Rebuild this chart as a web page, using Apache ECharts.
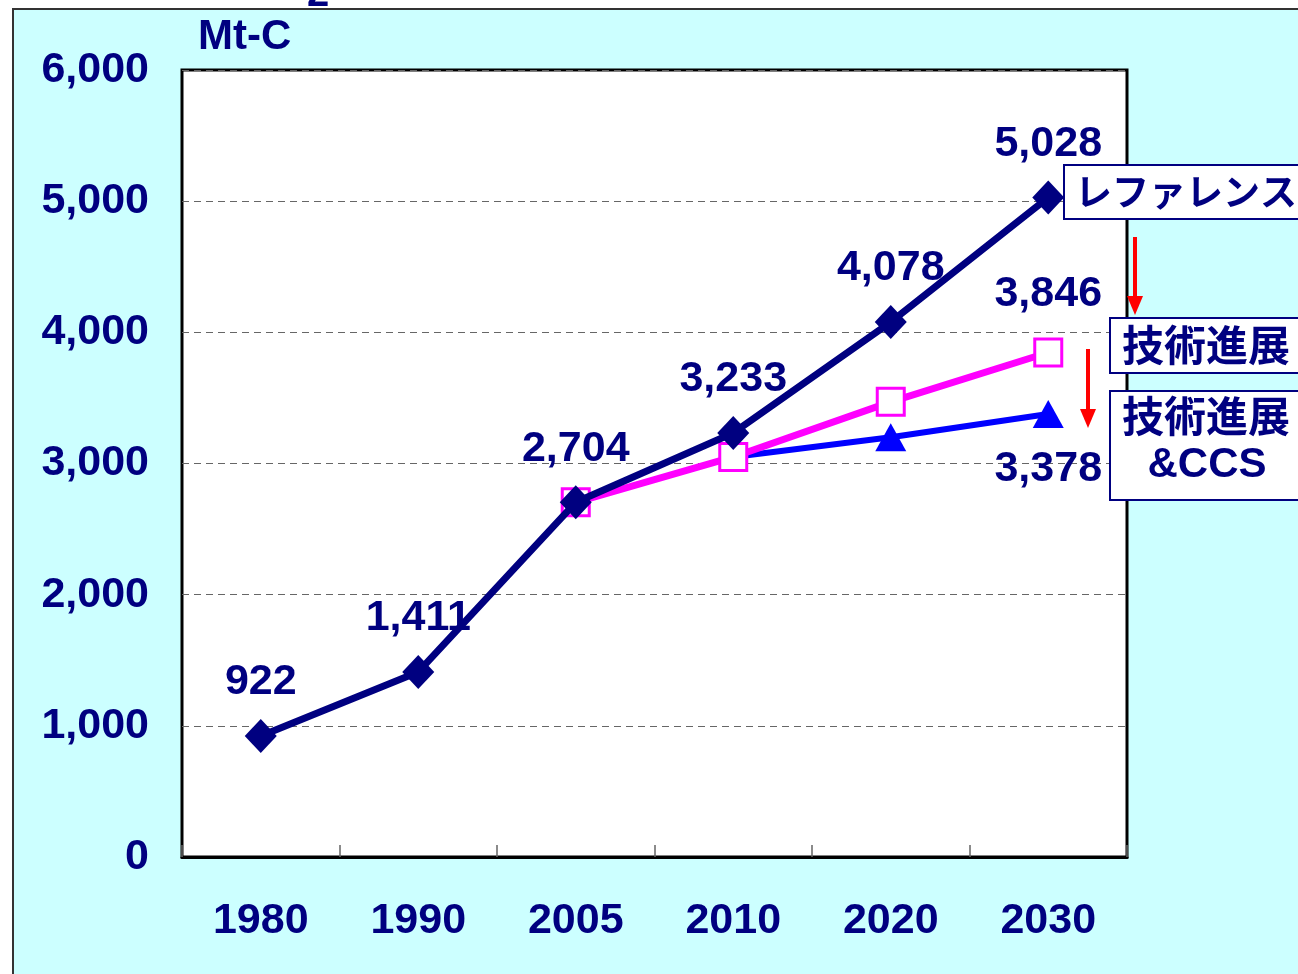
<!DOCTYPE html>
<html>
<head>
<meta charset="utf-8">
<script src="https://cdn.jsdelivr.net/npm/echarts@6/dist/echarts.min.js"></script>
<style>
html,body{margin:0;padding:0;background:#fff;}
#panel{position:absolute;left:12px;top:8px;width:1300px;height:980px;background:#CCFFFF;border-left:2px solid #333;border-top:2px solid #333;box-sizing:border-box;}
#chart{position:absolute;left:0;top:0;width:1298px;height:974px;}
</style>
</head>
<body>
<div id="panel"></div>
<div id="chart"></div>
<script>
const categories = ['1980', '1990', '2005', '2010', '2020', '2030'];
const referenceValues = [922, 1411, 2704, 3233, 4078, 5028];
const techValues = [null, null, 2704, 3050, 3470, 3846];
const ccsValues = [null, null, null, 3050, 3200, 3378];
const yTicks = [0, 1000, 2000, 3000, 4000, 5000, 6000];
const unitLabel = 'Mt-C';
const legendRef = 'レファレンス';
const legendTech = '技術進展';
const legendCcs = ['技術進展', '&CCS'];

const NAVY = '#000080';
const numFont = '"Liberation Sans", Arial, sans-serif';
const jpFont = '"Noto Sans CJK JP", sans-serif';

const chart = echarts.init(document.getElementById('chart'));

const lastIdx = categories.length - 1;
const techData = techValues.map((v, i) => i === lastIdx
  ? { value: v, label: { show: true, position: 'top', distance: 22 } }
  : v);
const ccsData = ccsValues.map((v, i) => {
  if (v === null) return v;
  if (i === lastIdx) return { value: v, label: { show: true, position: 'bottom', distance: 20 } };
  if (i === 3) return { value: v, symbol: 'none' };
  return v;
});

const labelStyle = {
  color: NAVY, fontSize: 43, fontWeight: 'bold', fontFamily: numFont,
  formatter: p => Number(p.value).toLocaleString('en-US')
};

chart.setOption({
  backgroundColor: 'transparent',
  animation: false,
  grid: {
    left: 182, right: 171, top: 70, bottom: 117,
    show: true, backgroundColor: '#fff', borderColor: '#000', borderWidth: 3
  },
  xAxis: {
    type: 'category',
    data: categories,
    boundaryGap: true,
    axisLine: { show: true, lineStyle: { color: '#000', width: 3 } },
    axisTick: { show: true, inside: true, length: 12, lineStyle: { color: '#666', width: 1.5 } },
    axisLabel: { color: NAVY, fontSize: 43, fontWeight: 'bold', fontFamily: numFont, margin: 43 }
  },
  yAxis: {
    type: 'value',
    min: yTicks[0], max: yTicks[yTicks.length - 1], interval: 1000,
    name: unitLabel,
    nameLocation: 'end',
    nameGap: 12,
    nameTextStyle: { color: NAVY, fontSize: 42, fontWeight: 'bold', fontFamily: numFont, align: 'left', padding: [0, 0, 0, 16] },
    axisLine: { show: false },
    axisTick: { show: false },
    axisLabel: {
      color: NAVY, fontSize: 43, fontWeight: 'bold', fontFamily: numFont, margin: 33,
      formatter: v => v.toLocaleString('en-US')
    },
    splitLine: { show: true, lineStyle: { color: '#666', width: 1, type: [7, 5] } }
  },
  series: [
    {
      name: 'ccs', type: 'line', data: ccsData,
      symbol: 'triangle', symbolSize: [31, 28],
      lineStyle: { color: '#0000FF', width: 6 },
      itemStyle: { color: '#0000FF' },
      label: Object.assign({ show: false }, labelStyle),
      z: 2
    },
    {
      name: 'tech', type: 'line', data: techData,
      symbol: 'rect', symbolSize: 27,
      lineStyle: { color: '#FF00FF', width: 7 },
      itemStyle: { color: '#fff', borderColor: '#FF00FF', borderWidth: 3 },
      label: Object.assign({ show: false }, labelStyle),
      z: 3
    },
    {
      name: 'reference', type: 'line', data: referenceValues,
      symbol: 'diamond', symbolSize: [32, 34],
      lineStyle: { color: NAVY, width: 7 },
      itemStyle: { color: NAVY },
      label: Object.assign({ show: true, position: 'top', distance: 15 }, labelStyle),
      z: 4
    }
  ],
  graphic: [
    { type: 'text', x: 318, y: 15, z: 10,
      style: { text: '2', fill: NAVY, font: 'bold 40px ' + numFont, align: 'center', verticalAlign: 'bottom' } },
    { type: 'rect', shape: { x: 1064, y: 165, width: 260, height: 54 }, z: 10,
      style: { fill: '#fff', stroke: NAVY, lineWidth: 2 } },
    { type: 'text', x: 1075, y: 192, z: 11,
      style: { text: legendRef, fill: NAVY, font: 'bold 37px ' + jpFont, verticalAlign: 'middle', align: 'left' } },
    { type: 'rect', shape: { x: 1110, y: 318, width: 220, height: 55 }, z: 10,
      style: { fill: '#fff', stroke: NAVY, lineWidth: 2 } },
    { type: 'text', x: 1206, y: 345, z: 11,
      style: { text: legendTech, fill: NAVY, font: 'bold 42px ' + jpFont, verticalAlign: 'middle', align: 'center' } },
    { type: 'rect', shape: { x: 1110, y: 391, width: 220, height: 109 }, z: 10,
      style: { fill: '#fff', stroke: NAVY, lineWidth: 2 } },
    { type: 'text', x: 1206, y: 416, z: 11,
      style: { text: legendCcs[0], fill: NAVY, font: 'bold 42px ' + jpFont, verticalAlign: 'middle', align: 'center' } },
    { type: 'text', x: 1207, y: 465, z: 11,
      style: { text: legendCcs[1], fill: NAVY, font: 'bold 42px ' + numFont, verticalAlign: 'middle', align: 'center' } },
    { type: 'line', shape: { x1: 1135, y1: 237, x2: 1135, y2: 300 }, z: 10,
      style: { stroke: '#FF0000', lineWidth: 4 } },
    { type: 'polygon', shape: { points: [[1127, 296], [1143, 296], [1135, 315]] }, z: 10,
      style: { fill: '#FF0000' } },
    { type: 'line', shape: { x1: 1088, y1: 349, x2: 1088, y2: 412 }, z: 10,
      style: { stroke: '#FF0000', lineWidth: 4 } },
    { type: 'polygon', shape: { points: [[1080, 409], [1096, 409], [1088, 428]] }, z: 10,
      style: { fill: '#FF0000' } }
  ]
});
</script>
</body>
</html>
